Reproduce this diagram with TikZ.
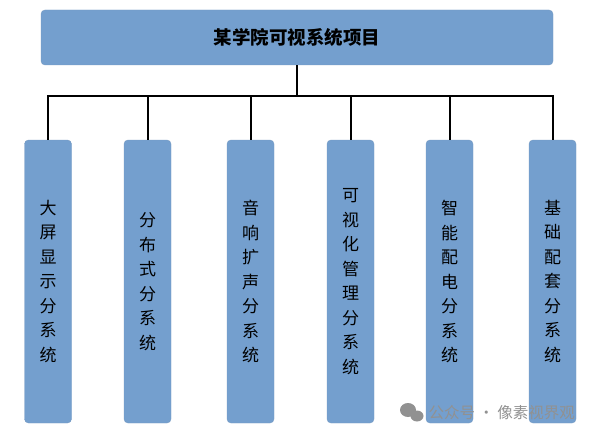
\documentclass[tikz,border=0pt]{standalone}
\usepackage{fontspec}
\setmainfont{Noto Sans CJK SC}
\usepackage{tikz}
\usetikzlibrary{calc}
\definecolor{boxblue}{RGB}{116,159,206}
\definecolor{markgray}{RGB}{145,145,145}
\tikzstyle{topbox}=[rectangle,rounded corners=4pt,fill=boxblue,draw=boxblue!85!gray,minimum width=512pt,minimum height=55pt,inner sep=0pt,font=\fontsize{18.5}{22}\selectfont\bfseries]
\tikzstyle{subbox}=[rectangle,rounded corners=4pt,fill=boxblue,draw=boxblue!85!gray,minimum width=47pt,minimum height=283pt,inner sep=0pt,align=center,font=\fontsize{17}{24.5}\selectfont]
\tikzstyle{link} = [draw,line width=2pt]
\tikzstyle{watermark} = [text=markgray,font=\fontsize{15.5}{18}\selectfont]

\begin{document}
\begin{tikzpicture}[x=1pt,y=-1pt]
    \useasboundingbox (0,0) rectangle (595,436);

    \node[topbox] (top) at (297,37.5) {某学院可视系统项目};
    \coordinate (bar) at (297,96);

    \foreach \pos/ \name/ \label in {{(48,281.5)/s1/大\\屏\\显\\示\\分\\系\\统},
        {(147.5,281.5)/s2/分\\布\\式\\分\\系\\统},
        {(250.5,281.5)/s3/音\\响\\扩\\声\\分\\系\\统},
        {(350.5,281.5)/s4/可\\视\\化\\管\\理\\分\\系\\统},
        {(449.5,281.5)/s5/智\\能\\配\\电\\分\\系\\统},
        {(552.5,281.5)/s6/基\\础\\配\\套\\分\\系\\统}}
        \node[subbox] (\name) at \pos {\label};

    % tree connectors
    \foreach \name in {s1,s2,s3,s4,s5,s6}
        \path[link] (top.south) -- (top.south |- bar) -| (\name.north);

    % watermark
    \fill[markgray] (408,410) ellipse (8pt and 7pt);
    \fill[markgray] (417,416) ellipse (6.5pt and 5.5pt);
    \node[watermark,anchor=west] (wm) at (425,413) {公众号 · 像素视界观};

\end{tikzpicture}
\end{document}
